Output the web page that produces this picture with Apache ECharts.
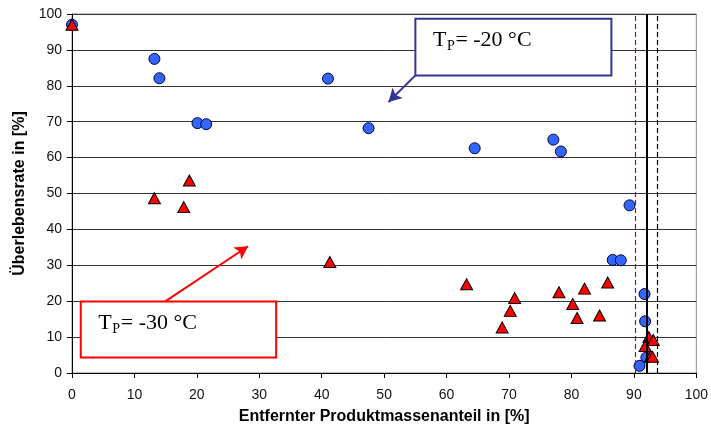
<!DOCTYPE html>
<html>
<head>
<meta charset="utf-8">
<script src="https://cdn.jsdelivr.net/npm/echarts@6/dist/echarts.min.js"></script>
<style>
  html, body { margin: 0; padding: 0; background: #fff; }
  #main { width: 711px; height: 430px; }
</style>
</head>
<body>
<div id="main"></div>
<script>
// T_P = -20 °C (blue circles): [removed mass %, survival %]
var circlesX = [0, 13.2, 14.0, 20.1, 21.5, 41.0, 47.5, 64.5, 77.1, 78.3, 89.3, 86.6, 87.9, 91.7, 91.8, 92.0, 90.9];
var circlesY = [97.0, 87.5, 82.1, 69.6, 69.3, 82.0, 68.2, 62.6, 65.0, 61.7, 46.7, 31.5, 31.4, 22.0, 14.4, 4.3, 2.0];
// T_P = -30 °C (red triangles)
var trianglesX = [0, 13.2, 17.9, 18.8, 41.3, 63.2, 70.9, 70.2, 68.9, 78.0, 82.1, 85.8, 80.2, 80.9, 84.5, 92.4, 93.1, 91.8, 92.7, 93.0];
var trianglesY = [97.0, 48.7, 46.2, 53.6, 30.9, 24.7, 20.9, 17.3, 12.7, 22.5, 23.5, 25.2, 19.2, 15.3, 16.0, 10.0, 9.2, 7.5, 4.7, 4.5];
// vertical reference lines
var refLinesX = [90.25, 92.0, 93.8];
var axisTicks = [0, 10, 20, 30, 40, 50, 60, 70, 80, 90, 100];

var chartDom = document.getElementById('main');
var myChart = echarts.init(chartDom);

function pairs(xs, ys) {
  return xs.map(function (x, i) { return [x, ys[i]]; });
}

var option = {
  animation: false,
  grid: {
    left: 72, right: 11, top: 14, bottom: 57,
    show: true, borderColor: '#8c8c8c', borderWidth: 1
  },
  xAxis: {
    type: 'value',
    min: axisTicks[0], max: axisTicks[axisTicks.length - 1], interval: 10,
    name: 'Entfernter Produktmassenanteil in [%]',
    nameLocation: 'middle', nameGap: 36,
    nameTextStyle: { fontFamily: 'Liberation Sans', fontSize: 16, fontWeight: 'bold', color: '#000' },
    axisLine: { lineStyle: { color: '#000', width: 1 } },
    axisTick: { show: true, length: 5, lineStyle: { color: '#000' } },
    axisLabel: { fontFamily: 'Liberation Sans', fontSize: 14, color: '#111', margin: 15 },
    splitLine: { show: false }
  },
  yAxis: {
    type: 'value',
    min: axisTicks[0], max: axisTicks[axisTicks.length - 1], interval: 10,
    name: 'Überlebensrate in [%]',
    nameLocation: 'middle', nameGap: 41,
    nameTextStyle: { fontFamily: 'Liberation Sans', fontSize: 16, fontWeight: 'bold', color: '#000' },
    axisLine: { show: true, lineStyle: { color: '#000', width: 1 } },
    axisTick: { show: true, length: 5, lineStyle: { color: '#000' } },
    axisLabel: { fontFamily: 'Liberation Sans', fontSize: 14, color: '#111', margin: 10 },
    splitLine: { show: true, lineStyle: { color: '#333', width: 1 } }
  },
  series: [
    {
      name: 'lines',
      type: 'scatter',
      z: 1,
      data: [],
      markLine: {
        silent: true,
        animation: false,
        symbol: ['none', 'none'],
        label: { show: false },
        data: [
          { xAxis: refLinesX[0], lineStyle: { color: '#990099', type: [5, 3], width: 1.2 } },
          { xAxis: refLinesX[1], lineStyle: { color: '#000', type: 'solid', width: 2 } },
          { xAxis: refLinesX[2], lineStyle: { color: '#000', type: [5, 3], width: 1.2 } },
          [
            { coord: [55.0, 82.9], symbol: 'none', lineStyle: { color: '#333399', type: 'solid', width: 2 } },
            { coord: [50.7, 75.5], symbol: 'arrow', symbolSize: [11, 13] }
          ],
          [
            { coord: [15.0, 20.0], symbol: 'none', lineStyle: { color: '#ff0000', type: 'solid', width: 2 } },
            { coord: [28.2, 35.3], symbol: 'arrow', symbolSize: [11, 13] }
          ]
        ]
      }
    },
    {
      name: 'T_P = -20 °C',
      type: 'scatter',
      z: 3,
      symbol: 'circle',
      symbolSize: 11,
      itemStyle: { color: '#3366ff', borderColor: '#000033', borderWidth: 1, opacity: 1 },
      data: pairs(circlesX, circlesY)
    },
    {
      name: 'T_P = -30 °C',
      type: 'scatter',
      z: 4,
      symbol: 'triangle',
      symbolSize: [12, 11],
      itemStyle: { color: '#ff0000', borderColor: '#000', borderWidth: 1, opacity: 1 },
      data: pairs(trianglesX, trianglesY)
    }
  ]
};

option && myChart.setOption(option);

// annotation boxes, anchored in data coordinates
function txt(x, y, s, size) {
  return {
    type: 'text', z: 11, x: x, y: y,
    style: { text: s, fontFamily: 'Liberation Serif', fontSize: size, fill: '#000', verticalAlign: 'top' }
  };
}
function box(x0, y0, x1, y1, color, label) {
  var p0 = myChart.convertToPixel({ gridIndex: 0 }, [x0, y0]);
  var p1 = myChart.convertToPixel({ gridIndex: 0 }, [x1, y1]);
  var tx = p0[0] + 17.5, ty = p0[1] + 11;
  return [
    {
      type: 'rect',
      z: 10,
      shape: { x: p0[0], y: p0[1], width: p1[0] - p0[0], height: p1[1] - p0[1] },
      style: { fill: '#fff', stroke: color, lineWidth: 2 }
    },
    txt(tx, ty, 'T', 22),
    txt(tx + 14, ty + 10, 'P', 14),
    txt(tx + 22.5, ty, '= ' + label, 22)
  ];
}

myChart.setOption({
  graphic: [].concat(
    box(55.0, 98.7, 86.4, 82.9, '#333399', '-20 °C'),
    box(1.4, 19.9, 32.7, 4.3, '#ff0000', '-30 °C')
  )
});
</script>
</body>
</html>
